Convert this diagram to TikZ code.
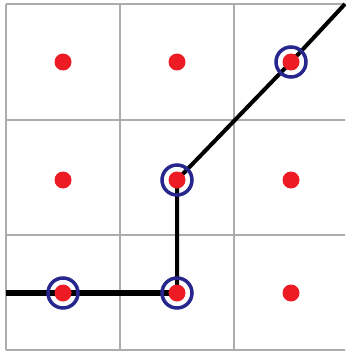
\documentclass[tikz,border=0pt]{standalone}
\usepackage{xcolor}
\definecolor{dotred}{RGB}{237,28,36}
\definecolor{ringblue}{RGB}{38,38,140}
\definecolor{gridgray}{RGB}{172,172,172}

\begin{document}
\begin{tikzpicture}[x=1pt, y=-1pt,
    dot/.style={circle, fill=dotred, inner sep=0pt, minimum size=17pt},
    ring/.style={circle, draw=ringblue, line width=3.5pt, inner sep=0pt, minimum size=30pt},
    gridline/.style={gridgray, line width=1.5pt}]
        \useasboundingbox (0,0) rectangle (345,353);

        % Grid
        \begin{scope}
          \clip (0,0) rectangle (345,353);
          \foreach \x in {6,120,234,348}
            \draw[gridline] (\x,4) -- (\x,350);
          \foreach \y in {4,120,235,350}
            \draw[gridline] (6,\y) -- (348,\y);
        \end{scope}

        % Cell centres
        \foreach \x/\i in {63/1,177/2,291/3}
          \foreach \y/\j in {62/1,180/2,293/3}
            \coordinate (p\j\i) at (\x,\y);
        \coordinate (in) at (6,293);
        \coordinate (out) at (345,4);

        % Path
        \draw[line width=6pt] (in) -- (p32);
        \draw[line width=4pt] (p32) -- (p22) -- (p13) -- (out);

        % Dots
        \foreach \j in {1,2,3}
          \foreach \i in {1,2,3}
            \node[dot] (d\j\i) at (p\j\i) {};

        % Rings
        \node[ring] (r1) at (d31) {};
        \node[ring] (r2) at (d32) {};
        \node[ring] (r3) at (d22) {};
        \node[ring] (r4) at (d13) {};
      \end{tikzpicture}
\end{document}
